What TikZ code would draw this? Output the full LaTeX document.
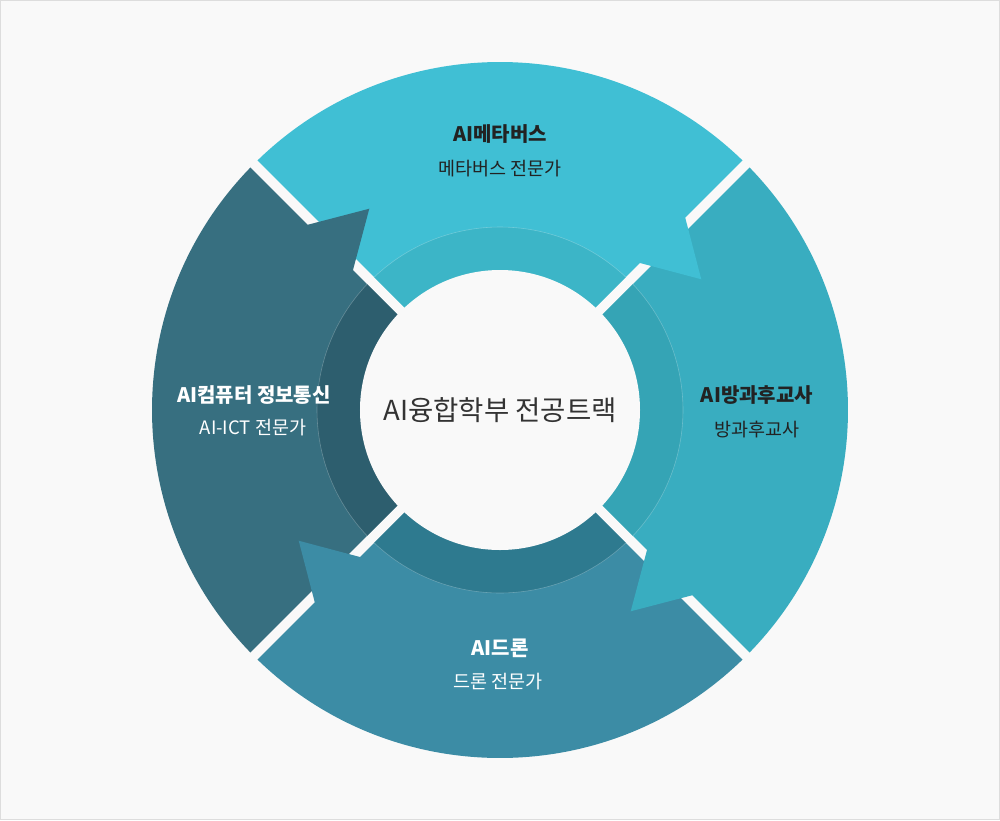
\documentclass[tikz,border=0pt]{standalone}
\usepackage{fontspec}
\setmainfont{Noto Sans CJK KR}
\definecolor{bgc}{HTML}{F9F9F9}
\definecolor{bordc}{HTML}{DDDDDD}
\definecolor{topo}{HTML}{40BFD4}
\definecolor{topm}{HTML}{3CB5C7}
\definecolor{rito}{HTML}{39ADC0}
\definecolor{ritm}{HTML}{35A4B5}
\definecolor{boto}{HTML}{3C8CA5}
\definecolor{botm}{HTML}{2E7A8F}
\definecolor{lefo}{HTML}{376F80}
\definecolor{lefm}{HTML}{2D5E6E}
\definecolor{darktxt}{HTML}{222222}
\definecolor{centtxt}{HTML}{333333}
\tikzset{
  ttl/.style={font=\fontsize{20}{24}\selectfont\bfseries, inner sep=0pt},
  subt/.style={font=\fontsize{18.5}{22}\selectfont, inner sep=0pt},
  centre/.style={font=\fontsize{27.5}{32}\selectfont, text=centtxt, inner sep=0pt}
}
\begin{document}
\begin{tikzpicture}[x=1pt,y=1pt]
\useasboundingbox (-500,-410) rectangle (500,410);
\fill[bgc] (-500,-410) rectangle (500,410);
\draw[bordc, line width=1] (-499.5,-409.5) rectangle (499.5,409.5);
% outer sector bodies
\foreach \a/\col in {90/topo, 0/rito, -90/boto, 180/lefo} {
  \fill[\col] (\a:7.07) -- (\a-44.18:348) arc[start angle=\a-44.18, end angle=\a+44.18, radius=348] -- cycle;
}
% arrowheads
\foreach \a/\col in {90/topo, 0/rito, -90/boto, 180/lefo} {
  \fill[\col] (\a-43.59:203) -- (\a-57:240) -- (\a-43.93:267) -- (\a-38:266) -- (\a-38:204) -- cycle;
}
% middle ring
\foreach \a/\col in {90/topm, 0/ritm, -90/botm, 180/lefm} {
  \fill[\col] (\a:7.07) -- (\a-43.43:183) arc[start angle=\a-43.43, end angle=\a+43.43, radius=183] -- cycle;
  \draw[white, opacity=0.25, line width=0.6] (\a-43.43:183) arc[start angle=\a-43.43, end angle=\a+43.43, radius=183];
}
\fill[bgc] (0,0) circle[radius=140];
% texts
\node[centre] (core) at (0,0) {AI융합학부 전공트랙};
\node[ttl, text=darktxt] (t1) at (0,276) {AI메타버스};
\node[subt, text=darktxt] (s1) at (0,241) {메타버스 전문가};
\node[ttl, text=darktxt] (t2) at (257,15) {AI방과후교사};
\node[subt, text=darktxt] (s2) at (257,-20) {방과후교사};
\node[ttl, text=white] (t3) at (0,-238) {AI드론};
\node[subt, text=white] (s3) at (-2,-272) {드론 전문가};
\node[ttl, text=white] (t4) at (-246,15) {AI컴퓨터 정보통신};
\node[subt, text=white] (s4) at (-247,-18) {AI-ICT 전문가};
\end{tikzpicture}
\end{document}
